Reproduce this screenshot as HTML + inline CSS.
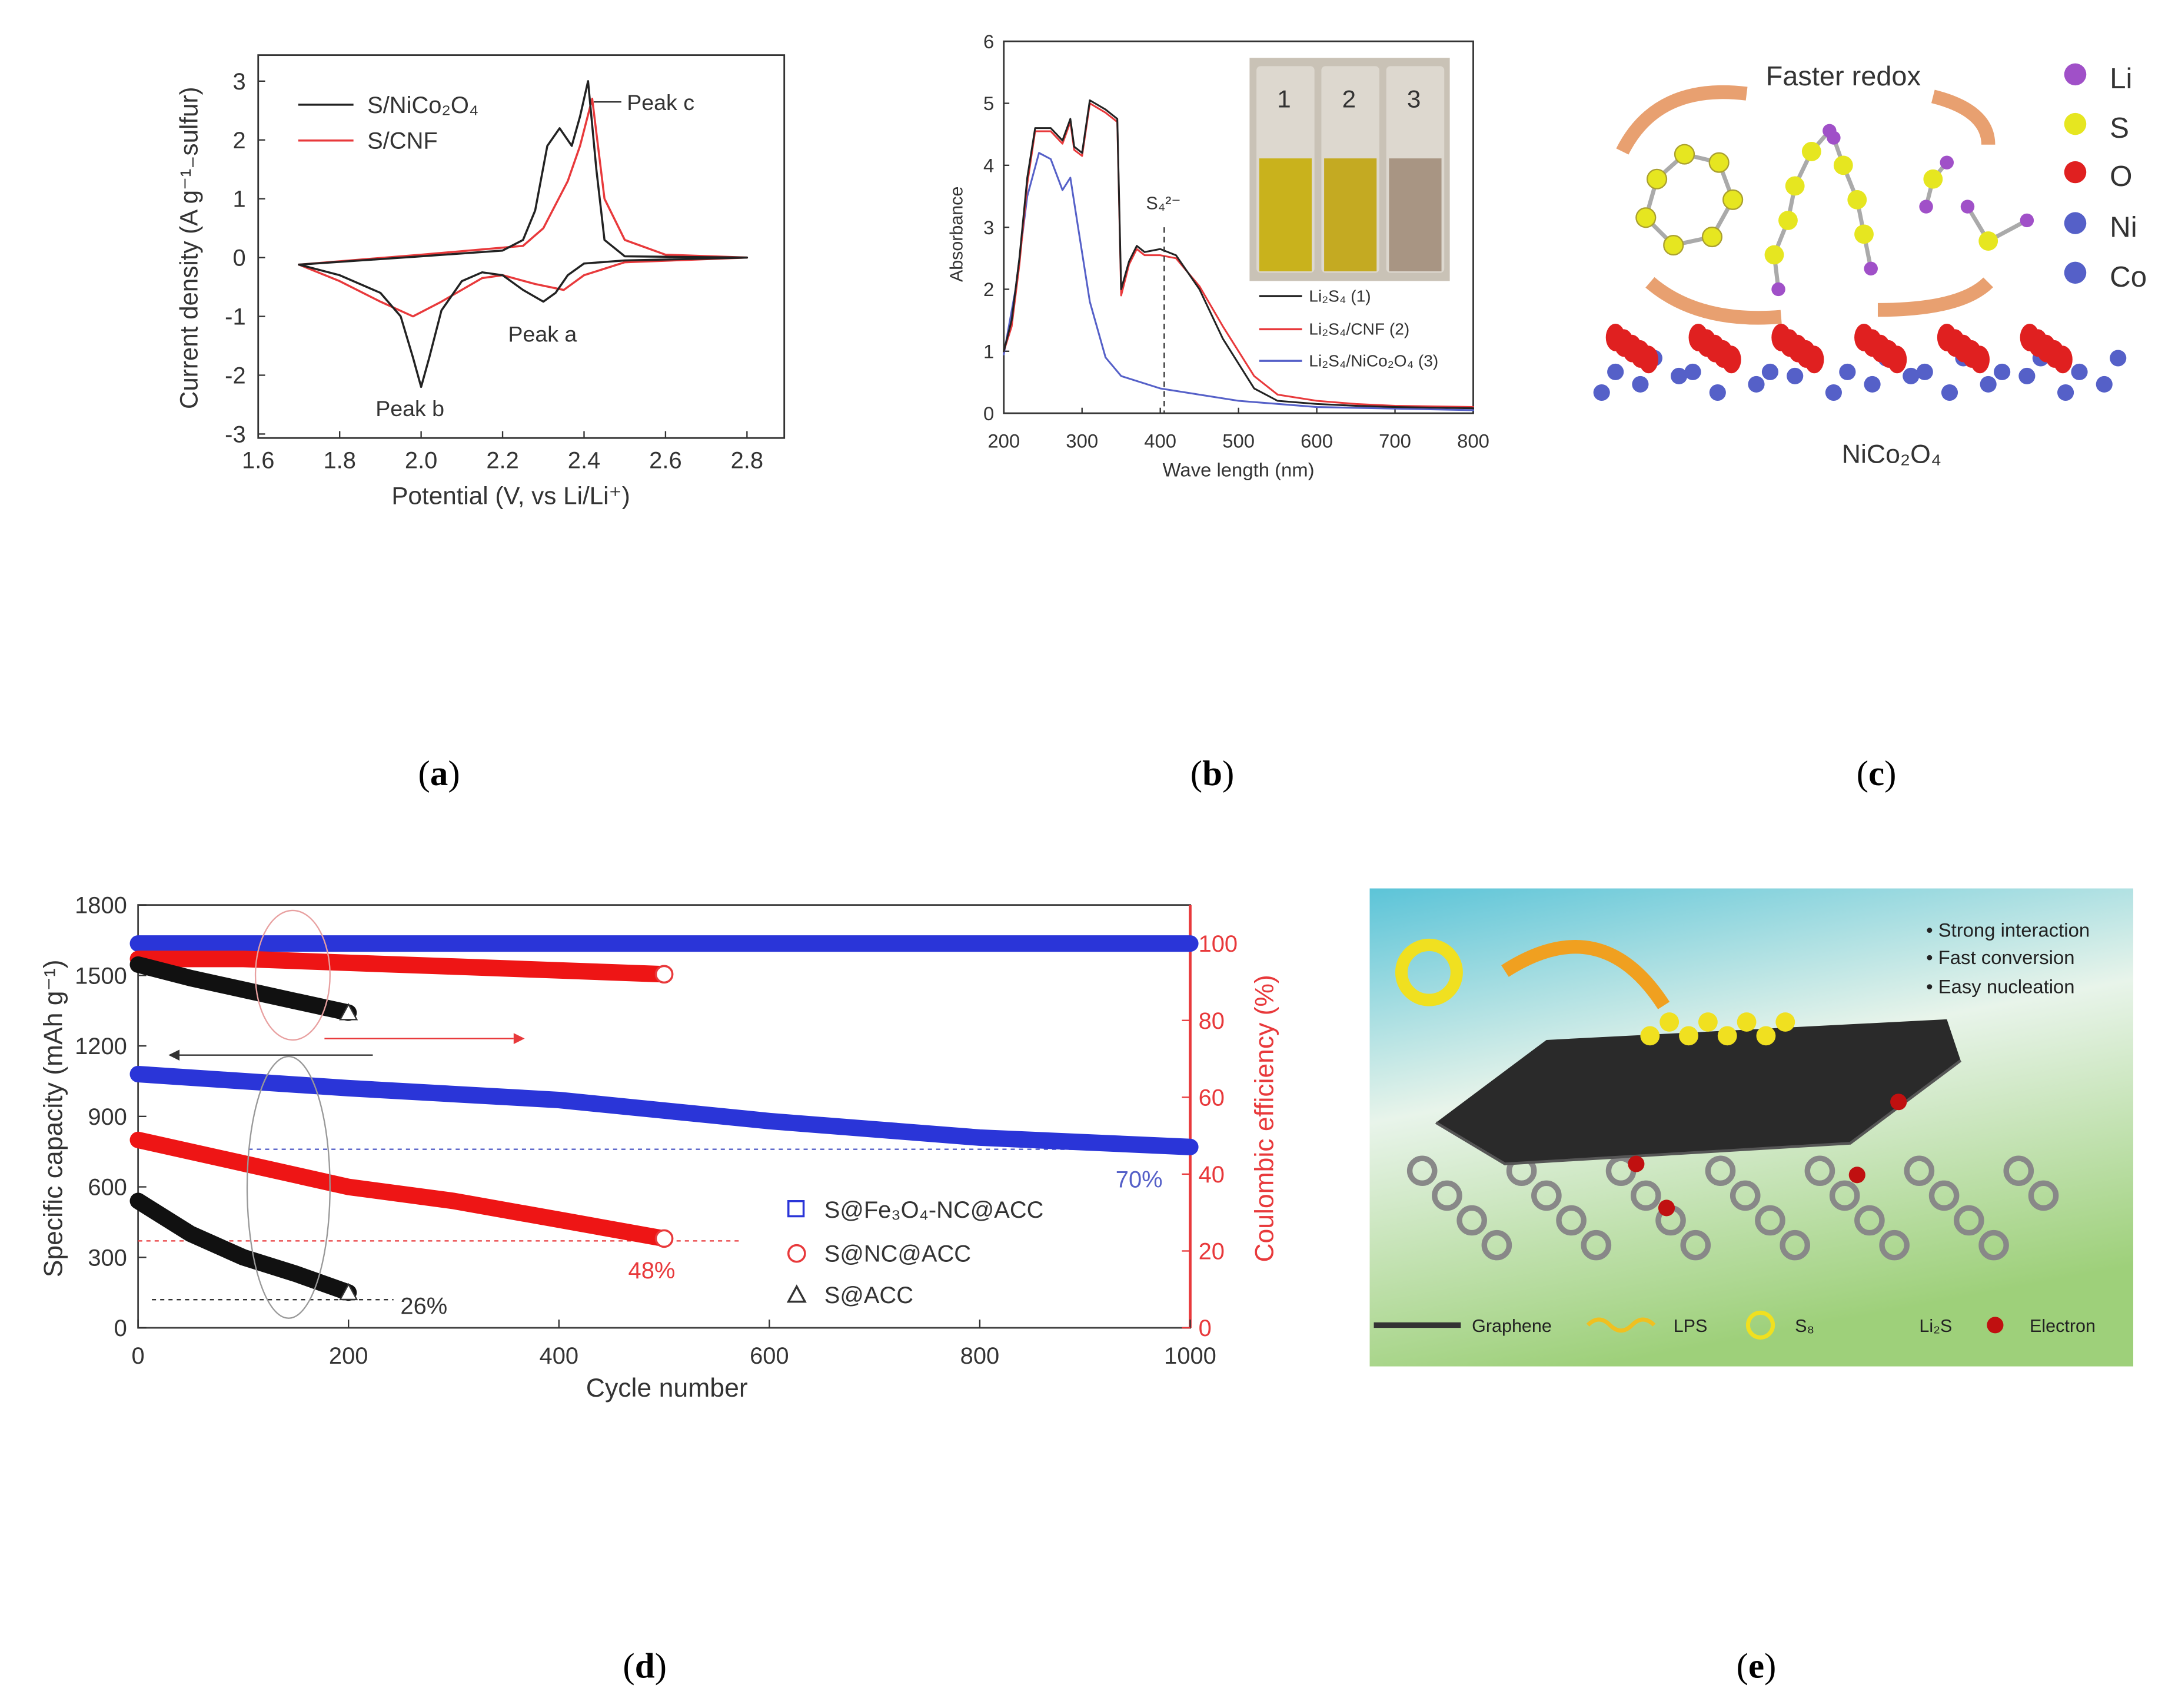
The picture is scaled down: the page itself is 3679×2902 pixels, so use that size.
<!DOCTYPE html>
<html><head><meta charset="utf-8"><style>
html,body{margin:0;padding:0;background:#fff}
svg{display:block}
text{font-family:"Liberation Sans",sans-serif}
.cap{font-family:"Liberation Serif",serif;font-size:26px}
</style></head><body>
<svg id="fig" width="3679" height="2902" viewBox="0 0 1568 1240" preserveAspectRatio="none" xmlns="http://www.w3.org/2000/svg">
<rect width="1568" height="1240" fill="#fff"/>
<g id="pa"></g>
<g id="pb"></g>
<g id="pc"></g>
<g id="pd"></g>
<g id="pe"></g>
<text class="cap" x="318" y="570" text-anchor="middle">(<tspan font-weight="bold">a</tspan>)</text>
<text class="cap" x="878" y="570" text-anchor="middle">(<tspan font-weight="bold">b</tspan>)</text>
<text class="cap" x="1359" y="570" text-anchor="middle">(<tspan font-weight="bold">c</tspan>)</text>
<text class="cap" x="467" y="1218" text-anchor="middle">(<tspan font-weight="bold">d</tspan>)</text>
<text class="cap" x="1272" y="1218" text-anchor="middle">(<tspan font-weight="bold">e</tspan>)</text>
</svg>
<script>
const NS="http://www.w3.org/2000/svg";
function mk(p,t,a,txt){const e=document.createElementNS(NS,t);for(const k in a)e.setAttribute(k,a[k]);if(txt!==undefined)e.textContent=txt;p.appendChild(e);return e;}

// ---- Panel a data ----
const aTicksX=[1.6,1.8,2.0,2.2,2.4,2.6,2.8];
const aTicksY=[-3,-2,-1,0,1,2,3];
const aBlackV=[1.7,1.8,1.9,1.95,1.98,2.0,2.02,2.05,2.1,2.15,2.2,2.25,2.3,2.33,2.36,2.4,2.5,2.8,2.8,2.5,2.45,2.43,2.41,2.39,2.37,2.34,2.31,2.28,2.25,2.2,2.0,1.7];
const aBlackI=[-0.12,-0.3,-0.6,-1.0,-1.7,-2.2,-1.7,-0.9,-0.4,-0.25,-0.3,-0.55,-0.75,-0.6,-0.3,-0.1,-0.05,0,0,0.02,0.3,1.5,3.0,2.4,1.9,2.2,1.9,0.8,0.3,0.12,0.02,-0.12];
const aRedV=[1.7,1.8,1.9,1.98,2.05,2.15,2.2,2.28,2.35,2.4,2.5,2.8,2.8,2.6,2.5,2.45,2.42,2.39,2.36,2.3,2.25,2.0,1.7];
const aRedI=[-0.12,-0.4,-0.75,-1.0,-0.75,-0.35,-0.3,-0.45,-0.55,-0.3,-0.08,0,0,0.05,0.3,1.0,2.7,1.9,1.3,0.5,0.2,0.05,-0.12];
// ---- Panel b data ----
const bTicksX=[200,300,400,500,600,700,800];
const bTicksY=[0,1,2,3,4,5,6];
const bBlackW=[200,210,220,230,240,260,275,285,290,300,310,330,345,350,360,370,380,400,420,450,480,520,550,600,650,700,800];
const bBlackA=[1.0,1.5,2.5,3.8,4.6,4.6,4.4,4.75,4.3,4.2,5.05,4.9,4.75,2.0,2.45,2.7,2.6,2.65,2.55,2.0,1.2,0.4,0.2,0.15,0.12,0.1,0.08];
const bRedA=[1.0,1.4,2.4,3.7,4.55,4.55,4.35,4.7,4.25,4.15,5.0,4.85,4.7,1.9,2.4,2.65,2.55,2.55,2.5,2.05,1.4,0.6,0.3,0.2,0.15,0.12,0.1];
const bBlueW=[200,215,230,245,260,275,285,295,310,330,350,400,500,600,800];
const bBlueA=[0.95,2.0,3.5,4.2,4.1,3.6,3.8,3.0,1.8,0.9,0.6,0.4,0.2,0.1,0.05];
// ---- Panel d data ----
const dTicksX=[0,200,400,600,800,1000];
const dTicksYL=[0,300,600,900,1200,1500,1800];
const dTicksYR=[0,20,40,60,80,100];
const dBlueC=[0,200,400,600,800,1000];const dBlueCap=[1080,1020,970,880,810,770];const dBlueCE=[100,100,100,100,100,100];
const dRedC=[0,100,200,300,400,500];const dRedCap=[800,700,600,540,460,380];const dRedCE=[96,96,95,94,93,92];
const dBlackC=[0,50,100,150,200];const dBlackCap=[540,400,300,230,150];const dBlackCE=[94.5,91,88,85,82];

function axis(g,x0,x1,y0,y1){mk(g,'rect',{x:x0,y:y0,width:x1-x0,height:y1-y0,fill:'none',stroke:'#333','stroke-width':1.2,});}
function poly(g,xs,ys,fx,fy,col,w,name){let d=xs.map((v,i)=>(i?'L':'M')+fx(v).toFixed(1)+','+fy(ys[i]).toFixed(1)).join('');const p=mk(g,'path',{d:d,fill:'none',stroke:col,'stroke-width':w,'stroke-linejoin':'round','stroke-linecap':'round'});return p;}

// Panel a
(function(){const g=document.getElementById('pa');const X=v=>187+(v-1.6)/0.2*59,Y=v=>187-v*42.7;
axis(g,187,568,40,318);
aTicksX.forEach(t=>{mk(g,'line',{x1:X(t),x2:X(t),y1:318,y2:313,stroke:'#333'});const e=mk(g,'text',{x:X(t),y:340,'font-size':17,'text-anchor':'middle',fill:'#333'},t.toFixed(1));});
aTicksY.forEach(t=>{mk(g,'line',{x1:187,x2:192,y1:Y(t),y2:Y(t),stroke:'#333'});const e=mk(g,'text',{x:178,y:Y(t)+6,'font-size':17,'text-anchor':'end',fill:'#333'},t);});
poly(g,aRedV,aRedI,X,Y,'#e8393b',1.5,'series-s-cnf');poly(g,aBlackV,aBlackI,X,Y,'#222',1.5,'series-s-nico2o4');
mk(g,'text',{x:370,y:366,'font-size':18,'text-anchor':'middle',fill:'#333',},'Potential (V, vs Li/Li⁺)');
mk(g,'text',{transform:'translate(143,180) rotate(-90)','font-size':18,'text-anchor':'middle',fill:'#333',},'Current density (A g⁻¹₋sulfur)');
mk(g,'line',{x1:216,x2:256,y1:76,y2:76,stroke:'#222','stroke-width':1.5});mk(g,'text',{x:266,y:82,'font-size':17,fill:'#333',},'S/NiCo₂O₄');
mk(g,'line',{x1:216,x2:256,y1:102,y2:102,stroke:'#e8393b','stroke-width':1.5});mk(g,'text',{x:266,y:108,'font-size':17,fill:'#333',},'S/CNF');
mk(g,'text',{x:454,y:80,'font-size':16,fill:'#333',},'Peak c');mk(g,'line',{x1:430,x2:450,y1:74,y2:74,stroke:'#333'});
mk(g,'text',{x:368,y:248,'font-size':16,fill:'#333',},'Peak a');
mk(g,'text',{x:272,y:302,'font-size':16,fill:'#333',},'Peak b');})();

// Panel b
(function(){const g=document.getElementById('pb');const X=v=>727+(v-200)/600*340,Y=v=>300-v*45;
axis(g,727,1067,30,300);
bTicksX.forEach(t=>{mk(g,'line',{x1:X(t),x2:X(t),y1:300,y2:296,stroke:'#333'});const e=mk(g,'text',{x:X(t),y:325,'font-size':14,'text-anchor':'middle',fill:'#333'},t);});
bTicksY.forEach(t=>{mk(g,'line',{x1:727,x2:731,y1:Y(t),y2:Y(t),stroke:'#333'});const e=mk(g,'text',{x:720,y:Y(t)+5,'font-size':14,'text-anchor':'end',fill:'#333'},t);});
poly(g,bBlueW,bBlueA,X,Y,'#5560c8',1.3,'series-li2s4-nico2o4');poly(g,bBlackW,bRedA,X,Y,'#e8393b',1.3,'series-li2s4-cnf');poly(g,bBlackW,bBlackA,X,Y,'#222',1.3,'series-li2s4');
mk(g,'line',{x1:X(405),x2:X(405),y1:165,y2:300,stroke:'#333','stroke-dasharray':'4,3'});
mk(g,'text',{x:830,y:152,'font-size':13,fill:'#333',},'S₄²⁻');
mk(g,'text',{x:897,y:346,'font-size':14,'text-anchor':'middle',fill:'#333',},'Wave length (nm)');
mk(g,'text',{transform:'translate(697,170) rotate(-90)','font-size':13,'text-anchor':'middle',fill:'#333',},'Absorbance');
// vials photo
mk(g,'rect',{x:905,y:42,width:145,height:162,fill:'#c9c2b6',});
[[910,'#c9b21c'],[957,'#c4aa22'],[1004,'#a89583']].forEach((v,i)=>{mk(g,'rect',{x:v[0],y:48,width:42,height:150,fill:'#ddd8cf',rx:3});mk(g,'rect',{x:v[0]+2,y:115,width:38,height:82,fill:v[1]});mk(g,'text',{x:v[0]+20,y:78,'font-size':18,'text-anchor':'middle',fill:'#333'},i+1);});
[['#222','Li₂S₄ (1)',219],['#e8393b','Li₂S₄/CNF (2)',243],['#5560c8','Li₂S₄/NiCo₂O₄ (3)',266]].forEach(l=>{mk(g,'line',{x1:912,x2:943,y1:l[2]-4,y2:l[2]-4,stroke:l[0],'stroke-width':1.5});const e=mk(g,'text',{x:948,y:l[2],'font-size':12,fill:'#333'},l[1]);});})();

// Panel c
(function(){const g=document.getElementById('pc');
mk(g,'text',{x:1335,y:62,'font-size':20,'text-anchor':'middle',fill:'#333',},'Faster redox');
mk(g,'path',{d:'M1175,110 Q1200,60 1265,68',fill:'none',stroke:'#e8a070','stroke-width':10,});
mk(g,'path',{d:'M1400,70 Q1440,80 1440,105',fill:'none',stroke:'#e8a070','stroke-width':10});
mk(g,'path',{d:'M1195,205 Q1230,235 1290,230',fill:'none',stroke:'#e8a070','stroke-width':10,});
mk(g,'path',{d:'M1360,225 Q1420,225 1440,205',fill:'none',stroke:'#e8a070','stroke-width':10});
const ring=[[1200,130],[1220,112],[1245,118],[1255,145],[1240,172],[1212,178],[1192,158]];
ring.forEach((p,i)=>{const q=ring[(i+1)%ring.length];mk(g,'line',{x1:p[0],y1:p[1],x2:q[0],y2:q[1],stroke:'#aaa','stroke-width':3});});
ring.forEach(p=>mk(g,'circle',{cx:p[0],cy:p[1],r:7,fill:'#e6e620',stroke:'#aaa030'}));
[[1290,1340],[1340,1390]].forEach(()=>{});
const chains=[[[1288,210],[1285,185],[1295,160],[1300,135],[1312,110],[1325,95]],[[1355,195],[1350,170],[1345,145],[1335,120],[1328,100]],[[1395,150],[1400,130],[1410,118]],[[1425,150],[1440,175],[1468,160]]];
chains.forEach(c=>{for(let i=1;i<c.length;i++)mk(g,'line',{x1:c[i-1][0],y1:c[i-1][1],x2:c[i][0],y2:c[i][1],stroke:'#aaa','stroke-width':3});c.forEach((p,i)=>mk(g,'circle',{cx:p[0],cy:p[1],r:(i==0||i==c.length-1)?5:7,fill:(i==0||i==c.length-1)?'#a050c8':'#e6e620'}));});
for(let i=0;i<14;i++){const x=1160+i*28;mk(g,'circle',{cx:x,cy:285-(i%3)*6,r:6,fill:'#5560c8'});mk(g,'circle',{cx:x+10,cy:270-(i%2)*10,r:6,fill:'#5560c8'});}
for(let i=0;i<6;i++){const x=1170+i*60;for(let j=0;j<5;j++)mk(g,'ellipse',{cx:x+j*6,cy:245+j*4,rx:7,ry:10,fill:'#e02020'});}
mk(g,'text',{x:1370,y:336,'font-size':19,'text-anchor':'middle',fill:'#333',},'NiCo₂O₄');
[['#a050c8','Li',62],['#e6e620','S',98],['#e02020','O',133],['#5560c8','Ni',170],['#5560c8','Co',206]].forEach(l=>{mk(g,'circle',{cx:1503,cy:l[2]-8,r:8,fill:l[0]});const e=mk(g,'text',{x:1528,y:l[2]+2,'font-size':21,fill:'#333'},l[1]);});})();

// Panel d
(function(){const g=document.getElementById('pd');const X=v=>100+v*0.762,YL=v=>964-v*(307/1800),YR=v=>964-v*2.79;
mk(g,'rect',{x:100,y:657,width:762,height:307,fill:'none',stroke:'#444','stroke-width':1.2,});
mk(g,'line',{x1:862,x2:862,y1:657,y2:964,stroke:'#e8393b','stroke-width':2});
dTicksX.forEach(t=>{mk(g,'line',{x1:X(t),x2:X(t),y1:964,y2:958,stroke:'#333'});const e=mk(g,'text',{x:X(t),y:990,'font-size':17,'text-anchor':'middle',fill:'#333'},t);});
dTicksYL.forEach(t=>{mk(g,'line',{x1:100,x2:106,y1:YL(t),y2:YL(t),stroke:'#333'});const e=mk(g,'text',{x:92,y:YL(t)+6,'font-size':17,'text-anchor':'end',fill:'#333'},t);});
dTicksYR.forEach(t=>{mk(g,'line',{x1:856,x2:862,y1:YR(t),y2:YR(t),stroke:'#e8393b'});const e=mk(g,'text',{x:868,y:YR(t)+6,'font-size':17,fill:'#e8393b'},t);});
mk(g,'line',{x1:180,x2:862,y1:YL(760),y2:YL(760),stroke:'#5560c8','stroke-dasharray':'3,3'});
mk(g,'line',{x1:100,x2:535,y1:YL(370),y2:YL(370),stroke:'#e8393b','stroke-dasharray':'3,3'});
mk(g,'line',{x1:110,x2:285,y1:YL(120),y2:YL(120),stroke:'#333','stroke-dasharray':'3,3'});
poly(g,dBlueC,dBlueCE,X,YR,'#2a35d8',12,'series-fe3o4-ce');poly(g,dBlueC,dBlueCap,X,YL,'#2a35d8',12,'series-fe3o4-capacity');
poly(g,dRedC,dRedCE,X,YR,'#ee1515',12,'series-nc-ce');poly(g,dRedC,dRedCap,X,YL,'#ee1515',12,'series-nc-capacity');
poly(g,dBlackC,dBlackCE,X,YR,'#111',12,'series-acc-ce');poly(g,dBlackC,dBlackCap,X,YL,'#111',12,'series-acc-capacity');
dRedC.forEach((c,i)=>{if(i==dRedC.length-1){mk(g,'circle',{cx:X(c),cy:YL(dRedCap[i]),r:6,fill:'#fff',stroke:'#e8393b','stroke-width':1.5});mk(g,'circle',{cx:X(c),cy:YR(dRedCE[i]),r:6,fill:'#fff',stroke:'#e8393b','stroke-width':1.5});}});
dBlackC.forEach((c,i)=>{if(i==dBlackC.length-1){[YL(dBlackCap[i]),YR(dBlackCE[i])].forEach(y=>mk(g,'path',{d:`M${X(c)-6},${y+5}L${X(c)+6},${y+5}L${X(c)},${y-6}Z`,fill:'#fff',stroke:'#333'}));}});
mk(g,'ellipse',{cx:212,cy:708,rx:27,ry:47,fill:'none',stroke:'#e8a0a0',});
mk(g,'ellipse',{cx:209,cy:862,rx:30,ry:95,fill:'none',stroke:'#999',});
mk(g,'line',{x1:235,x2:372,y1:754,y2:754,stroke:'#e8393b'});mk(g,'path',{d:'M372,750L380,754L372,758Z',fill:'#e8393b'});
mk(g,'line',{x1:130,x2:270,y1:766,y2:766,stroke:'#333'});mk(g,'path',{d:'M130,762L122,766L130,770Z',fill:'#333'});
mk(g,'text',{x:808,y:862,'font-size':17,fill:'#5560c8',},'70%');
mk(g,'text',{x:455,y:928,'font-size':17,fill:'#e8393b',},'48%');
mk(g,'text',{x:290,y:954,'font-size':17,fill:'#333',},'26%');
mk(g,'rect',{x:571,y:872,width:11,height:11,fill:'none',stroke:'#2a35d8','stroke-width':1.5});mk(g,'text',{x:597,y:884,'font-size':17,fill:'#333',},'S@Fe₃O₄-NC@ACC');
mk(g,'circle',{cx:577,cy:910,r:6,fill:'none',stroke:'#e8393b','stroke-width':1.5});mk(g,'text',{x:597,y:916,'font-size':17,fill:'#333',},'S@NC@ACC');
mk(g,'path',{d:'M571,945L583,945L577,934Z',fill:'none',stroke:'#333','stroke-width':1.5});mk(g,'text',{x:597,y:946,'font-size':17,fill:'#333',},'S@ACC');
mk(g,'text',{x:483,y:1014,'font-size':19,'text-anchor':'middle',fill:'#333',},'Cycle number');
mk(g,'text',{transform:'translate(45,812) rotate(-90)','font-size':19,'text-anchor':'middle',fill:'#333',},'Specific capacity (mAh g⁻¹)');
mk(g,'text',{transform:'translate(922,812) rotate(-90)','font-size':19,'text-anchor':'middle',fill:'#e8393b',},'Coulombic efficiency (%)');})();

// Panel e
(function(){const g=document.getElementById('pe');
const df=mk(g,'defs',{});const lg=mk(df,'linearGradient',{id:'eg',x1:0,y1:0,x2:0.3,y2:1});mk(lg,'stop',{offset:0,'stop-color':'#5cc4d8'});mk(lg,'stop',{offset:0.45,'stop-color':'#e8f4ea'});mk(lg,'stop',{offset:1,'stop-color':'#9ed07a'});
mk(g,'rect',{x:992,y:645,width:553,height:347,fill:'url(#eg)',});
for(let i=0;i<26;i++){const x=1030+i*18,y=850+(i%4)*18;mk(g,'circle',{cx:x,cy:y,r:9,fill:'none',stroke:'#888','stroke-width':4});}
mk(g,'path',{d:'M1040,815 L1120,755 L1410,740 L1420,770 L1340,830 L1090,845 Z',fill:'#2a2a2a',});
mk(g,'path',{d:'M1040,815 L1090,845 L1340,830 L1420,770',fill:'none',stroke:'#555','stroke-width':2});
for(let i=0;i<8;i++){mk(g,'circle',{cx:1195+i*14,cy:752-(i%2)*10,r:7,fill:'#f0e020'});}
mk(g,'circle',{cx:1035,cy:706,r:20,fill:'none',stroke:'#f0e020','stroke-width':9,});
mk(g,'path',{d:'M1090,705 Q1160,660 1205,730',fill:'none',stroke:'#f0a020','stroke-width':10});
[[1185,845],[1207,877],[1345,853],[1375,800]].forEach(p=>mk(g,'circle',{cx:p[0],cy:p[1],r:6,fill:'#c01010'}));
[['• Strong interaction',680],['• Fast conversion',700],['• Easy nucleation',721]].forEach(t=>{const e=mk(g,'text',{x:1395,y:t[1],'font-size':14,fill:'#222'},t[0]);});
[['Graphene',1066],['LPS',1212],['S₈',1300],['Li₂S',1390],['Electron',1470]].forEach(t=>{const e=mk(g,'text',{x:t[1],y:967,'font-size':13,fill:'#222'},t[0]);});
mk(g,'circle',{cx:1445,cy:962,r:6,fill:'#c01010'});mk(g,'circle',{cx:1275,cy:962,r:9,fill:'none',stroke:'#f0e020','stroke-width':3});
mk(g,'path',{d:'M1150,962 q8,-8 16,0 t16,0 t16,0',fill:'none',stroke:'#f0c020','stroke-width':3});mk(g,'path',{d:'M995,962 L1058,962',stroke:'#333','stroke-width':4});})();
</script>
</body></html>
